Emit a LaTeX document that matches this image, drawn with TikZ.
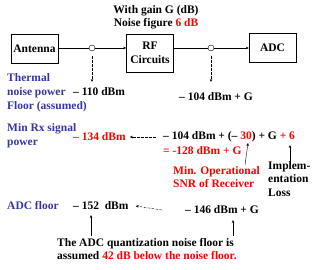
\documentclass[tikz,border=0pt]{standalone}
\usepackage{fontspec}
\setmainfont{Liberation Serif}
\usetikzlibrary{arrows.meta}
\definecolor{lblue}{HTML}{3535A5}
\definecolor{lred}{HTML}{FF0000}
\begin{document}
\begin{tikzpicture}[x=1pt,y=-1pt,
  every node/.style={font=\bfseries\fontsize{11.5}{13.8}\selectfont, inner sep=0pt},
  blk/.style={draw, minimum width=47pt, minimum height=29pt, align=center},
  dot/.style={draw, circle, minimum size=6pt, inner sep=0pt},
  lbl/.style={text=lblue, align=left, anchor=west},
  txt/.style={anchor=west},
  tip/.style={-{Stealth[length=3pt,width=2.5pt]}},
  dtip/.style={dashed, dash pattern=on 2.5pt off 1.5pt, -{Stealth[length=3pt,width=2.5pt]}}
]
\useasboundingbox (0,0) rectangle (317,269);
% top labels
\node (gain) at (156,11) {With gain G (dB)};
\node (nf) at (156,24) {Noise figure \textcolor{lred}{6 dB}};
% blocks
\node[blk] (ant) at (34.5,48.5) {Antenna};
\node[blk, minimum height=38pt] (rf) at (150,53) {RF\\Circuits};
\node[blk] (adc) at (272.5,47.5) {ADC};
\node[dot] (c1) at (92,48) {};
\node[dot] (c2) at (211,48) {};
\draw (ant.east |- c1) -- (c1.west);
\draw[tip] (c1.east) -- (c1.east -| rf.west);
\draw (c1.east -| rf.east) -- (c2.west);
\draw[tip] (c2.east) -- (c2.east -| adc.west);
\coordinate (d1) at (92,82);
\coordinate (d2) at (211,82);
\draw[dtip] ([yshift=-5pt]c1.south) -- (d1);
\draw[dtip] ([yshift=-5pt]c2.south) -- (d2);
% thermal row
\node[lbl] (therm) at (7,92.5) {Thermal\\noise power\\Floor (assumed)};
\node[txt] (n110) at (73,92) {\textendash\ 110 dBm};
\node[txt] (n104) at (179,97) {\textendash\ 104 dBm + G};
% min rx row
\node[lbl] (minrx) at (7,136) {Min Rx signal\\power};
\node[txt, text=lred] (n134) at (73,137) {\textendash\ 134 dBm};
\node[txt] (eq) at (163,137) {\textendash\ 104 dBm + (\textendash\ \textcolor{lred}{30}) + G \textcolor{lred}{+ 6}};
\node[txt, text=lred] (eq2) at (163,151) {= -128 dBm + G};
\draw[dtip] ([xshift=-7pt]eq.west) -- ([xshift=4pt]n134.east);
\node[txt, text=lred, align=left] (snr) at (173,177) {Min. Operational\\SNR of Receiver};
\node[txt, align=left] (impl) at (268,179) {Implem-\\entation\\Loss};
\coordinate (s30) at (248,143);
\coordinate (s6) at (290,145);
\draw[tip] (245,165) -- (s30);
\draw[tip] (290,164) -- (s6);
% adc row
\node[lbl] (adcf) at (7,206) {ADC floor};
\node[txt] (n152) at (73,206) {\textendash\ 152\ \ dBm};
\node[txt] (n146) at (185,210) {\textendash\ 146 dBm + G};
\draw[dtip] ([xshift=-23pt]n146.west) -- ([xshift=7pt]n152.east);
\node[align=left, anchor=west] (note) at (57,249) {The ADC quantization noise floor is\\assumed \textcolor{lred}{42 dB below the noise floor.}};
\coordinate (u1) at (91,215);
\coordinate (u2) at (233,220);
\draw[tip] (91,236) -- (u1);
\draw[tip] (233,236) -- (u2);
\end{tikzpicture}
\end{document}
